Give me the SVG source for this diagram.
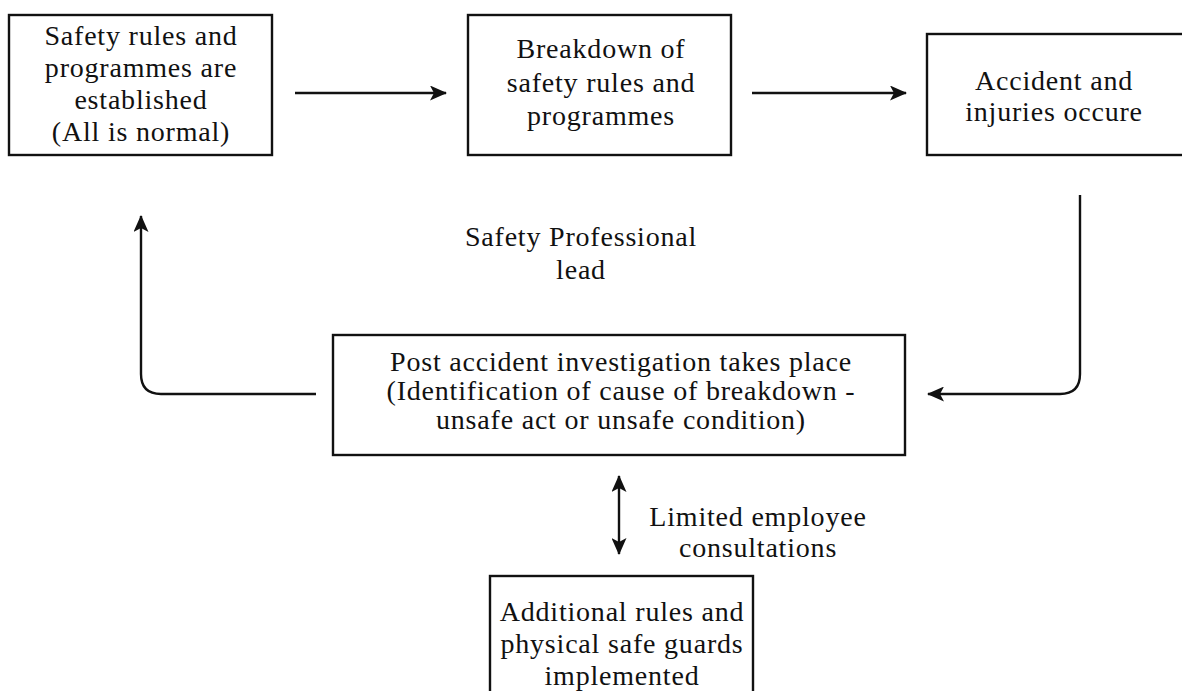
<svg xmlns="http://www.w3.org/2000/svg" width="1182" height="691" viewBox="0 0 1182 691">
  <style>
    .box { fill: #fff; stroke: #111; stroke-width: 2.4; }
    .lbl { font-family: "Liberation Serif", "Times New Roman", serif; font-size: 28px; letter-spacing: 0.8px; fill: #111; text-anchor: middle; }
    .wire { fill: none; stroke: #111; stroke-width: 2.4; }
  </style>
  <defs>
    <!-- filled arrowhead with a shallow notch at the back -->
    <marker id="head" viewBox="0 0 17 15" refX="16" refY="7.5" markerWidth="17" markerHeight="15" markerUnits="userSpaceOnUse" orient="auto-start-reverse">
      <path d="M0,0 L17,7.5 L0,15 L4,7.5 z" fill="#111"/>
    </marker>
  </defs>
  <rect width="1182" height="691" fill="#fff"/>

  <g id="connectors">
    <line class="wire" x1="295" y1="93" x2="446" y2="93" marker-end="url(#head)"/>
    <line class="wire" x1="752" y1="93" x2="906" y2="93" marker-end="url(#head)"/>
    <path class="wire" d="M1080,195 V374 Q1080,394 1060,394 H928" marker-end="url(#head)"/>
    <path class="wire" d="M316,394 H161 Q141,394 141,374 V216" marker-end="url(#head)"/>
    <line class="wire" x1="619" y1="476" x2="619" y2="554" marker-start="url(#head)" marker-end="url(#head)"/>
  </g>

  <g id="node-rules">
    <rect class="box" x="9" y="15" width="263" height="140"/>
    <text class="lbl" x="141" y="45">Safety rules and</text>
    <text class="lbl" x="141" y="77">programmes are</text>
    <text class="lbl" x="141" y="109">established</text>
    <text class="lbl" x="141" y="141">(All is normal)</text>
  </g>

  <g id="node-breakdown">
    <rect class="box" x="468" y="15" width="263" height="140"/>
    <text class="lbl" x="601" y="58">Breakdown of</text>
    <text class="lbl" x="601" y="92">safety rules and</text>
    <text class="lbl" x="601" y="125">programmes</text>
  </g>

  <g id="node-accident">
    <rect class="box" x="927" y="34" width="260" height="121"/>
    <text class="lbl" x="1054" y="90">Accident and</text>
    <text class="lbl" x="1054" y="121">injuries occure</text>
  </g>

  <g id="label-lead">
    <text class="lbl" x="581" y="246">Safety Professional</text>
    <text class="lbl" x="581" y="279">lead</text>
  </g>

  <g id="node-investigation">
    <rect class="box" x="333" y="335" width="572" height="120"/>
    <text class="lbl" x="621" y="371">Post accident investigation takes place</text>
    <text class="lbl" x="621" y="400">(Identification of cause of breakdown -</text>
    <text class="lbl" x="621" y="429">unsafe act or unsafe condition)</text>
  </g>

  <g id="label-consult">
    <text class="lbl" x="758" y="526">Limited employee</text>
    <text class="lbl" x="758" y="557">consultations</text>
  </g>

  <g id="node-safeguards">
    <rect class="box" x="490" y="576" width="263" height="130"/>
    <text class="lbl" x="622" y="621">Additional rules and</text>
    <text class="lbl" x="622" y="653">physical safe guards</text>
    <text class="lbl" x="622" y="685">implemented</text>
  </g>
</svg>
